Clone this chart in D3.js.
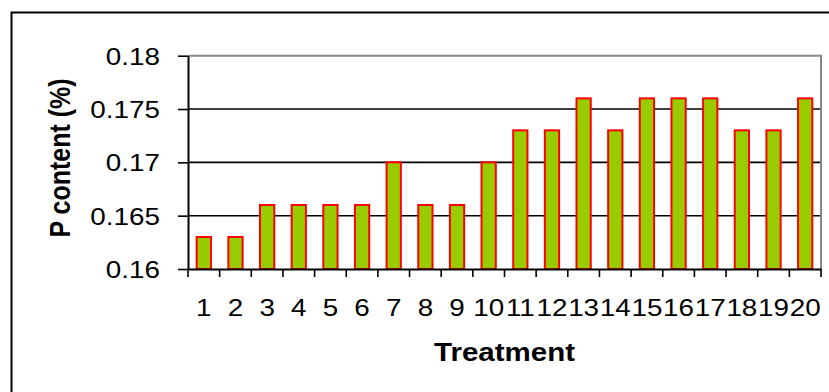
<!DOCTYPE html>
<html>
<head>
<meta charset="utf-8">
<script src="https://cdn.jsdelivr.net/npm/d3@7"></script>
<style>
  body { margin: 0; background: #fff; }
  text { font-family: "Liberation Sans", Arial, sans-serif; fill: #000; }
</style>
</head>
<body>
<svg id="chart" width="829" height="392"></svg>
<script>
// Treatment categories and P content (%)
const treatments = ["1","2","3","4","5","6","7","8","9","10","11","12","13","14","15","16","17","18","19","20"];
const pContent = [0.163,0.163,0.166,0.166,0.166,0.166,0.17,0.166,0.166,0.17,0.173,0.173,0.176,0.173,0.176,0.176,0.176,0.173,0.173,0.176];
const yTicks = [0.16,0.165,0.17,0.175,0.18];

const svg = d3.select("#chart");
const plot = { left: 188, right: 821, top: 55.7, bottom: 269 };
const sx = 1.16; // text in the picture is a bit wide

// outer chart border
svg.append("rect")
  .attr("x", 11.5).attr("y", 12.5)
  .attr("width", 840).attr("height", 400)
  .attr("fill", "none").attr("stroke", "#000").attr("stroke-width", 2);

const x = d3.scaleBand()
  .domain(treatments)
  .range([plot.left, plot.right])
  .paddingInner(0.55)
  .paddingOuter(0.275);

const xEdge = d3.scaleLinear().domain([0, treatments.length]).range([plot.left, plot.right]);

const y = d3.scaleLinear().domain([0.16, 0.18]).range([plot.bottom, plot.top]);

// gridlines
svg.append("g")
  .selectAll("line")
  .data(yTicks.slice(1, -1))
  .join("line")
  .attr("x1", plot.left).attr("x2", plot.right)
  .attr("y1", d => y(d)).attr("y2", d => y(d))
  .attr("stroke", "#000").attr("stroke-width", 1.6);

// plot area border top/right (gray)
svg.append("path")
  .attr("d", `M${plot.left},${y(0.18)}H${plot.right}V${plot.bottom}`)
  .attr("fill", "none").attr("stroke", "#888").attr("stroke-width", 2);

// bars
svg.append("g")
  .selectAll("rect")
  .data(pContent)
  .join("rect")
  .attr("x", (d, i) => x(treatments[i]))
  .attr("y", d => y(d))
  .attr("width", x.bandwidth())
  .attr("height", d => y(0.16) - y(d))
  .attr("fill", "#99cc00")
  .attr("stroke", "#ff0000")
  .attr("stroke-width", 2);

// y axis
const yAxis = svg.append("g")
  .attr("transform", `translate(${plot.left},0)`)
  .call(d3.axisLeft(y).tickValues(yTicks).tickSize(10).tickSizeOuter(0)
    .tickFormat(d => String(+d.toFixed(3))));
yAxis.select(".domain").attr("stroke-width", 2);
yAxis.selectAll(".tick line").attr("stroke-width", 1.6);
yAxis.selectAll(".tick text")
  .attr("x", -28 / sx)
  .attr("dy", "0.36em")
  .attr("transform", `scale(${sx},1)`)
  .style("font-size", "24px");

// x axis: labels at band centres, ticks at band edges
const xAxis = svg.append("g")
  .attr("transform", `translate(0,${plot.bottom})`)
  .call(d3.axisBottom(x).tickSize(0).tickSizeOuter(0));
xAxis.select(".domain").attr("stroke-width", 2);
xAxis.selectAll(".tick text")
  .attr("y", 47).attr("dy", 0)
  .attr("transform", `scale(${sx},1)`)
  .style("font-size", "24px");

xAxis.append("g")
  .selectAll("line")
  .data(d3.range(treatments.length + 1))
  .join("line")
  .attr("x1", d => xEdge(d)).attr("x2", d => xEdge(d))
  .attr("y1", 0).attr("y2", 8)
  .attr("stroke", "#000").attr("stroke-width", 1.6);

// axis titles
svg.append("text")
  .attr("transform", `translate(${(plot.left + plot.right) / 2},361) scale(1.18,1)`)
  .attr("text-anchor", "middle")
  .style("font-size", "25px").style("font-weight", "bold")
  .text("Treatment");

svg.append("text")
  .attr("transform", `translate(70,158) scale(1.2,1) rotate(-90)`)
  .attr("text-anchor", "middle")
  .style("font-size", "25px").style("font-weight", "bold")
  .text("P content (%)");
</script>
</body>
</html>
